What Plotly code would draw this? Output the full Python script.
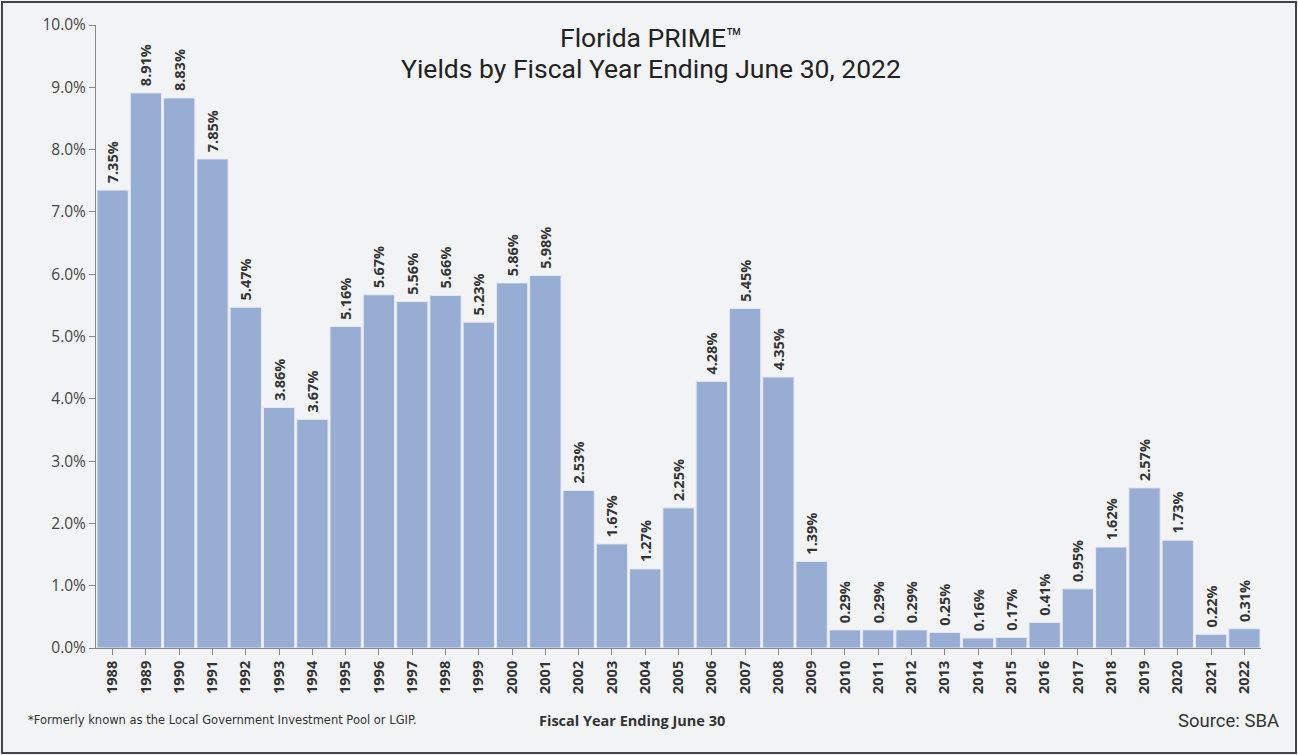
import plotly.graph_objects as go

years = [str(y) for y in range(1988, 2023)]
yields = [7.35, 8.91, 8.83, 7.85, 5.47, 3.86, 3.67, 5.16, 5.67, 5.56, 5.66, 5.23, 5.86, 5.98,
          2.53, 1.67, 1.27, 2.25, 4.28, 5.45, 4.35, 1.39, 0.29, 0.29, 0.29, 0.25, 0.16, 0.17,
          0.41, 0.95, 1.62, 2.57, 1.73, 0.22, 0.31]
labels = [f"{v:.2f}%" for v in yields]
y_ticks = [i for i in range(0, 11)]
y_tick_labels = [f"{i:.1f}%" for i in y_ticks]

fig = go.Figure(go.Bar(
    x=years, y=yields, text=["\u00a0" + t for t in labels], textposition="outside", textangle=-90,
    cliponaxis=False, constraintext="none",
    textfont=dict(family="Open Sans", size=14.5, color="#333333", weight="bold"),
    marker=dict(color="#98ADD4", line=dict(color="#E6EAF2", width=1)),
))

H = 623.0
fig.update_layout(
    width=1298, height=755,
    paper_bgcolor="#F2F3F5", plot_bgcolor="#F2F3F5",
    margin=dict(l=96, r=37, t=25, b=107),
    bargap=0.06,
    showlegend=False,
    xaxis=dict(type="category", tickangle=-90, showline=True, linecolor="#888888",
               ticks="outside", ticklen=6, tickcolor="#888888", showgrid=False,
               tickfont=dict(family="Open Sans", size=14.5, color="#333333", weight="bold")),
    yaxis=dict(range=[0, 10], tickvals=y_ticks, ticktext=y_tick_labels, showline=True,
               linecolor="#888888", ticks="outside", ticklen=6, tickcolor="#888888",
               showgrid=False, zeroline=False,
               tickfont=dict(family="Open Sans", size=15.5, color="#444444")),
    shapes=[dict(type="rect", xref="paper", yref="paper", x0=-94/1165, x1=1+35/1165,
                 y0=-105/H, y1=1+23/H, line=dict(color="#444444", width=2))],
    annotations=[
        dict(text="Florida PRIME\u2122", xref="paper", yref="paper",
             x=(651-96)/1165, y=(648-38)/H, yanchor="middle",
             showarrow=False, font=dict(family="Roboto", size=26.5, color="#222222")),
        dict(text="Yields by Fiscal Year Ending June 30, 2022", xref="paper", yref="paper",
             x=(651-96)/1165, y=(648-68)/H, yanchor="middle",
             showarrow=False, font=dict(family="Roboto", size=26.5, color="#222222")),
        dict(text="*Formerly known as the Local Government Investment Pool or LGIP.",
             xref="paper", yref="paper", x=-70/1165, y=-(720-648)/H, xanchor="left",
             yanchor="middle", showarrow=False,
             font=dict(family="DejaVu Sans", size=11.5, color="#333333")),
        dict(text="<b>Fiscal Year Ending June 30</b>", xref="paper", yref="paper",
             x=(632-96)/1165, y=-(720-648)/H, yanchor="middle", showarrow=False,
             font=dict(family="Open Sans", size=14.5, color="#333333")),
        dict(text="Source: SBA", xref="paper", yref="paper", x=(1281-96)/1165,
             y=-(721-648)/H, xanchor="right", yanchor="middle", showarrow=False,
             font=dict(family="Roboto", size=18.5, color="#333333")),
    ],
)

fig.write_html("out.html", config={"displayModeBar": False},
               post_script="document.body.style.margin='0';document.body.style.overflow='hidden';")
